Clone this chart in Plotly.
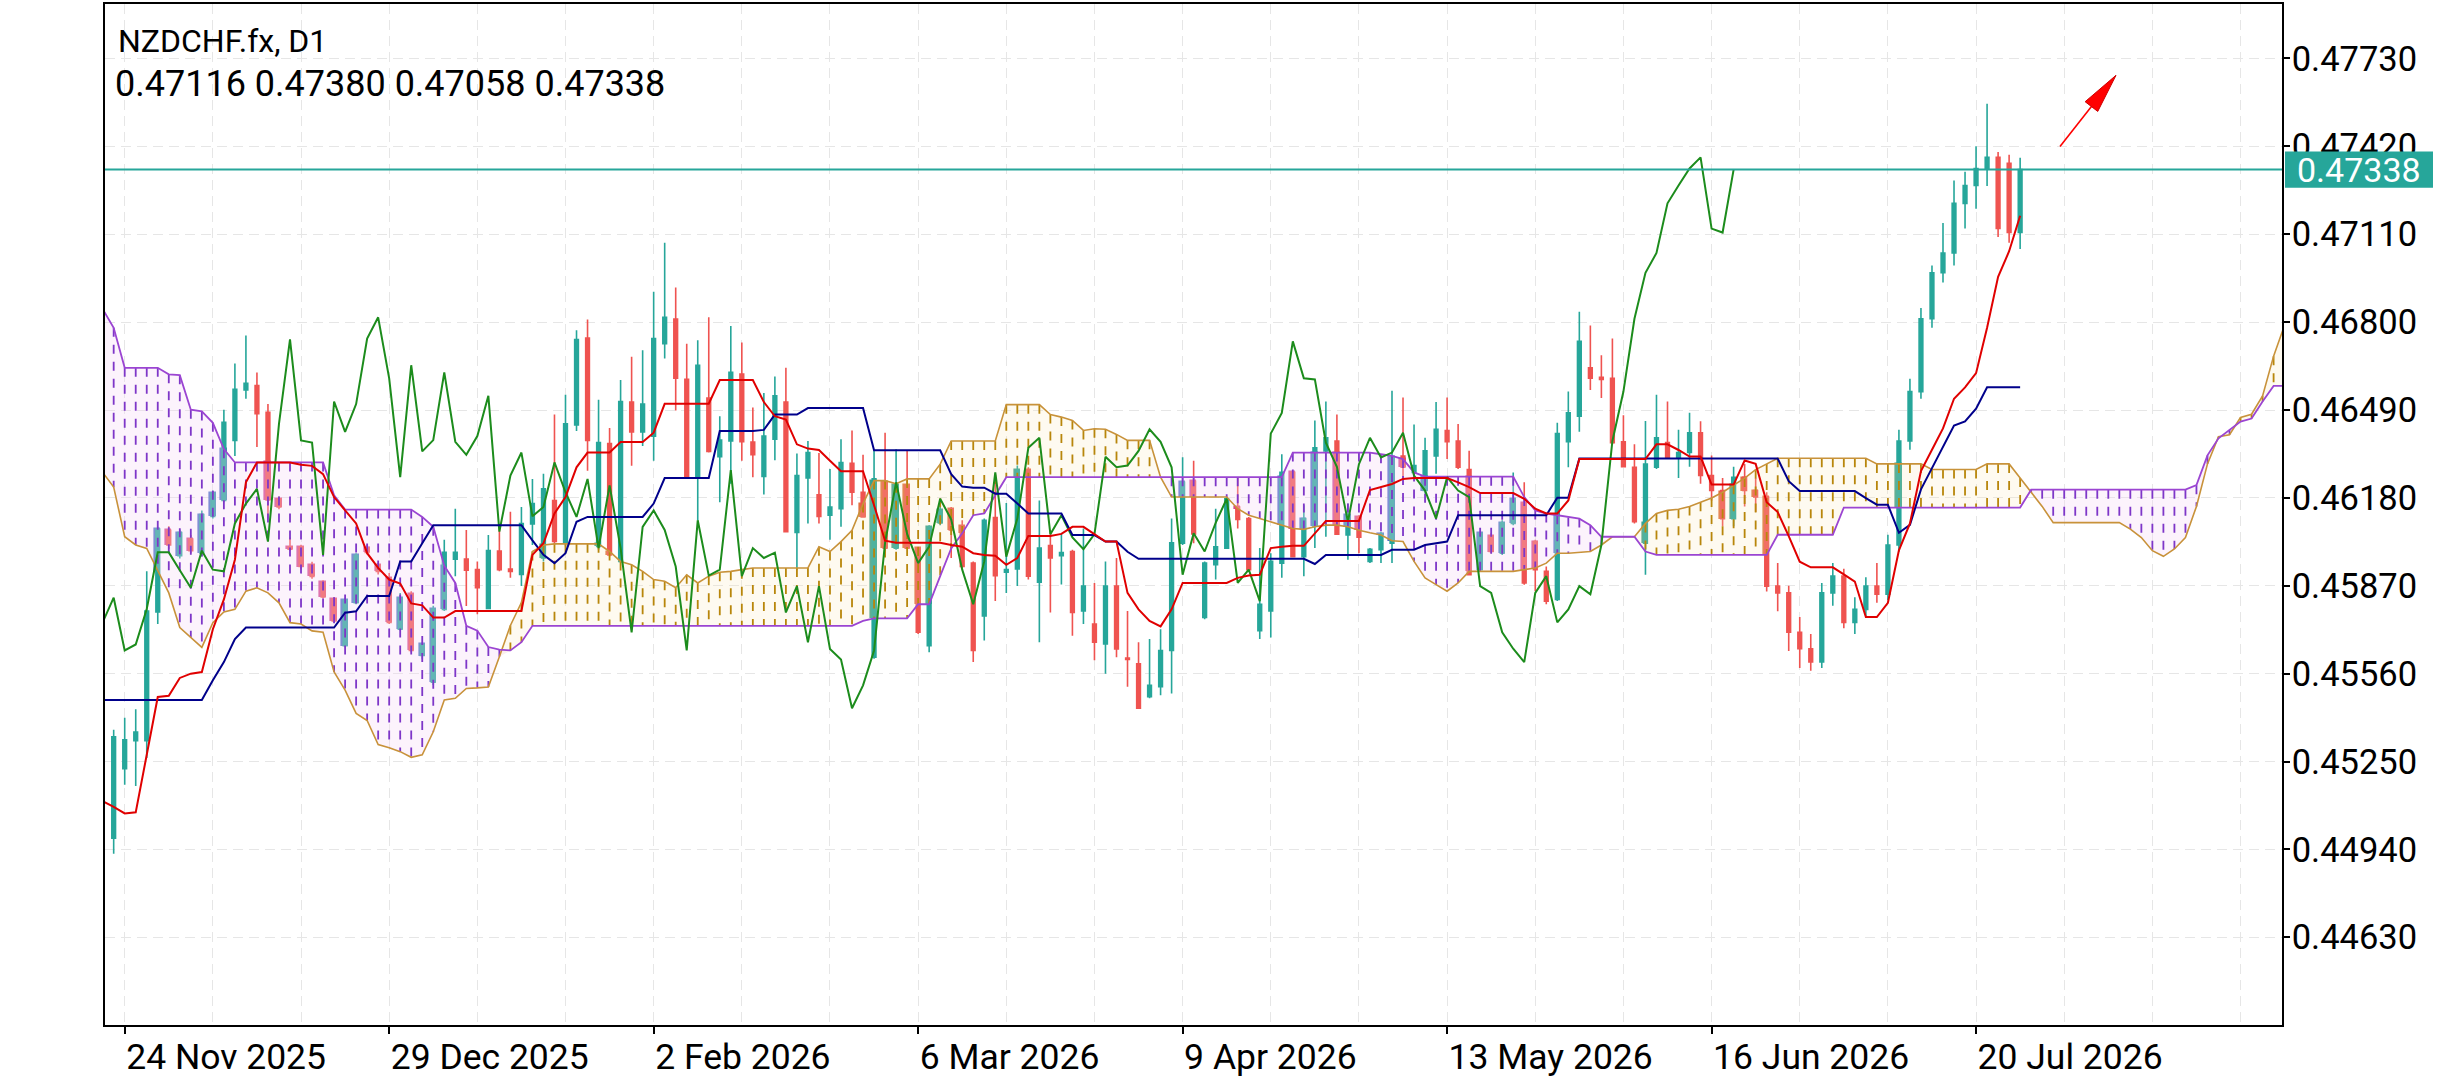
import numpy as np
import plotly.graph_objects as go

# ---------------- data ----------------
candle_start = -1  # bar index of first candle (24 Nov 2025 = 0)
opens = [0.44980,0.45225,0.45324,0.45324,0.45778,0.46066,0.45976,0.46035,0.45985,0.46115,
 0.46171,0.46383,0.46561,0.46576,0.46482,0.46177,0.46008,0.46008,0.45944,0.45882,
 0.45824,0.45659,0.45810,0.46005,0.45944,0.45898,0.45717,0.45840,0.45624,0.45530,
 0.45787,0.45964,0.45964,0.45927,0.45790,0.45993,0.45929,0.45910,0.46088,0.45968,
 0.46171,0.46020,0.46437,0.46744,0.46009,0.46372,0.45956,0.46518,0.46413,0.46398,
 0.46724,0.46811,0.46598,0.46253,0.46532,0.46325,0.46381,0.46617,0.46377,0.46256,
 0.46387,0.46518,0.46058,0.46250,0.46191,0.46119,0.46142,0.46302,0.46200,0.45618,
 0.46235,0.46003,0.46224,0.46003,0.45659,0.46092,0.46142,0.46081,0.45950,0.45764,
 0.46111,0.45918,0.45929,0.46278,0.45883,0.46012,0.45976,0.45991,0.45781,0.45735,
 0.45665,0.45869,0.45615,0.45595,0.45479,0.45514,0.45642,0.46020,0.46239,0.45758,
 0.45944,0.46003,0.46148,0.46107,0.45712,0.45781,0.45950,0.46270,0.45973,0.46080,
 0.46346,0.46381,0.46049,0.46113,0.45956,0.45997,0.46020,0.46328,0.46270,0.46206,
 0.46328,0.46418,0.46381,0.46280,0.45927,0.46046,0.45985,0.46090,0.46162,0.46026,
 0.45921,0.45822,0.46378,0.46468,0.46639,0.46605,0.46602,0.46378,0.46288,0.46020,
 0.46288,0.46375,0.46323,0.46340,0.46410,0.46259,0.46206,0.46107,0.46253,0.46206,
 0.46183,0.45869,0.45845,0.45706,0.45648,0.45601,0.45845,0.45904,0.45741,0.45787,
 0.45869,0.45840,0.46014,0.46381,0.46555,0.46812,0.46974,0.47044,0.47219,0.47282,
 0.47342,0.47381,0.47360,0.47116]
highs = [0.45362,0.45405,0.45435,0.45921,0.46078,0.46080,0.46068,0.46049,0.46136,0.46206,
 0.46491,0.46654,0.46753,0.46622,0.46511,0.46185,0.46040,0.46015,0.45955,0.45890,
 0.45830,0.45828,0.45985,0.46015,0.45950,0.45915,0.45845,0.45851,0.45670,0.45800,
 0.46032,0.46142,0.46067,0.45956,0.46049,0.46078,0.46131,0.46148,0.46247,0.46265,
 0.46474,0.46544,0.46771,0.46809,0.46526,0.46427,0.46596,0.46678,0.46701,0.46907,
 0.47080,0.46922,0.46724,0.46736,0.46817,0.46468,0.46786,0.46728,0.46499,0.46550,
 0.46608,0.46639,0.46337,0.46381,0.46338,0.46282,0.46387,0.46418,0.46332,0.46346,
 0.46410,0.46352,0.46346,0.46008,0.46084,0.46160,0.46148,0.46101,0.45956,0.46107,
 0.46264,0.46162,0.46294,0.46288,0.46171,0.46067,0.46055,0.45997,0.46072,0.45880,
 0.45956,0.45968,0.45781,0.45671,0.45682,0.45717,0.46107,0.46323,0.46311,0.45956,
 0.46142,0.46183,0.46253,0.46113,0.46003,0.45985,0.46334,0.46274,0.46154,0.46453,
 0.46520,0.46474,0.46160,0.46119,0.46003,0.46061,0.46558,0.46534,0.46439,0.46392,
 0.46518,0.46534,0.46441,0.46346,0.46061,0.46055,0.46101,0.46270,0.46235,0.46032,
 0.45938,0.46445,0.46555,0.46837,0.46788,0.46683,0.46742,0.46472,0.46369,0.46451,
 0.46544,0.46520,0.46420,0.46480,0.46450,0.46330,0.46250,0.46290,0.46300,0.46250,
 0.46200,0.45950,0.45870,0.45760,0.45700,0.45880,0.45950,0.45930,0.45830,0.45900,
 0.45950,0.46050,0.46420,0.46600,0.46850,0.47000,0.47150,0.47300,0.47330,0.47420,
 0.47570,0.47400,0.47390,0.47380]
lows = [0.44925,0.45168,0.45164,0.45263,0.45735,0.46000,0.45966,0.45985,0.45973,0.46107,
 0.46165,0.46328,0.46530,0.46360,0.46107,0.46140,0.45994,0.45930,0.45895,0.45825,
 0.45740,0.45653,0.45805,0.45980,0.45910,0.45735,0.45712,0.45636,0.45613,0.45520,
 0.45781,0.45904,0.45799,0.45770,0.45787,0.45921,0.45898,0.45869,0.46014,0.45956,
 0.46014,0.46009,0.46416,0.46276,0.45997,0.45973,0.45950,0.46293,0.46363,0.46311,
 0.46672,0.46488,0.46250,0.46101,0.46340,0.46165,0.46230,0.46311,0.46253,0.46192,
 0.46313,0.46058,0.45927,0.46090,0.46090,0.46032,0.46078,0.46154,0.46110,0.45613,
 0.46000,0.45997,0.46000,0.45700,0.45636,0.46084,0.45968,0.45933,0.45601,0.45677,
 0.45816,0.45845,0.45869,0.45892,0.45671,0.45776,0.45875,0.45694,0.45735,0.45607,
 0.45560,0.45618,0.45514,0.45438,0.45473,0.45484,0.45490,0.46014,0.46020,0.45752,
 0.45892,0.46000,0.46072,0.45921,0.45682,0.45688,0.45898,0.45971,0.45904,0.46003,
 0.46043,0.46049,0.45962,0.45985,0.45950,0.45950,0.45950,0.46250,0.46253,0.46195,
 0.46265,0.46317,0.46282,0.45909,0.45921,0.45985,0.45979,0.46084,0.45874,0.45851,
 0.45805,0.45816,0.46288,0.46413,0.46561,0.46532,0.46369,0.46288,0.46090,0.45909,
 0.46282,0.46317,0.46250,0.46290,0.46230,0.46170,0.46080,0.46080,0.46150,0.46130,
 0.45850,0.45780,0.45640,0.45580,0.45570,0.45580,0.45800,0.45720,0.45700,0.45760,
 0.45810,0.45820,0.45990,0.46350,0.46530,0.46780,0.46940,0.47000,0.47130,0.47200,
 0.47280,0.47100,0.47080,0.47058]
closes = [0.45337,0.45327,0.45354,0.45781,0.46070,0.46014,0.46058,0.45994,0.46121,0.46198,
 0.46447,0.46563,0.46584,0.46477,0.46173,0.46148,0.45999,0.45938,0.45903,0.45831,
 0.45746,0.45820,0.45977,0.45988,0.45921,0.45741,0.45828,0.45642,0.45663,0.45788,
 0.45988,0.45988,0.45925,0.45863,0.45994,0.45927,0.45921,0.46090,0.46160,0.46212,
 0.46026,0.46441,0.46739,0.46383,0.46375,0.45979,0.46520,0.46413,0.46511,0.46742,
 0.46817,0.46602,0.46253,0.46648,0.46344,0.46384,0.46623,0.46378,0.46332,0.46398,
 0.46540,0.46061,0.46259,0.46340,0.46115,0.46148,0.46305,0.46200,0.46113,0.46247,
 0.46003,0.46224,0.46003,0.45706,0.46078,0.46136,0.46067,0.45938,0.45642,0.46101,
 0.45906,0.45927,0.46278,0.45904,0.46003,0.45968,0.45987,0.45776,0.45869,0.45671,
 0.45869,0.45647,0.45610,0.45438,0.45519,0.45642,0.46022,0.46235,0.46053,0.45950,
 0.46008,0.46177,0.46104,0.45927,0.45805,0.45956,0.46270,0.45973,0.46107,0.46357,
 0.46392,0.46052,0.46119,0.46041,0.45999,0.46052,0.46325,0.46288,0.46294,0.46346,
 0.46422,0.46378,0.46288,0.45909,0.46055,0.45991,0.46092,0.46177,0.45880,0.45927,
 0.45816,0.46407,0.46480,0.46732,0.46602,0.46598,0.46375,0.46290,0.46096,0.46299,
 0.46392,0.46323,0.46340,0.46410,0.46259,0.46206,0.46107,0.46253,0.46206,0.46183,
 0.45869,0.45845,0.45706,0.45648,0.45601,0.45845,0.45904,0.45741,0.45787,0.45869,
 0.45840,0.46014,0.46381,0.46555,0.46812,0.46974,0.47044,0.47219,0.47282,0.47342,
 0.47381,0.47130,0.47116,0.47338]

line_start = -2
tenkan = [0.45110,0.45090,0.45067,0.45071,0.45274,0.45478,0.45482,0.45545,0.45560,0.45566,
 0.45717,0.45822,0.45962,0.46235,0.46305,0.46305,0.46305,0.46305,0.46297,0.46293,
 0.46264,0.46183,0.46136,0.46090,0.45985,0.45933,0.45892,0.45878,0.45808,0.45801,
 0.45758,0.45758,0.45781,0.45781,0.45781,0.45781,0.45781,0.45781,0.45781,0.45979,
 0.46020,0.46125,0.46183,0.46288,0.46340,0.46340,0.46340,0.46377,0.46377,0.46377,
 0.46410,0.46512,0.46512,0.46512,0.46512,0.46512,0.46596,0.46596,0.46596,0.46596,
 0.46518,0.46468,0.46456,0.46369,0.46354,0.46349,0.46311,0.46274,0.46274,0.46274,
 0.46154,0.46029,0.46022,0.46022,0.46022,0.46022,0.46022,0.46014,0.46008,0.45985,
 0.45979,0.45976,0.45944,0.45968,0.46046,0.46046,0.46046,0.46053,0.46078,0.46078,
 0.46053,0.46026,0.46026,0.45845,0.45787,0.45746,0.45727,0.45787,0.45880,0.45880,
 0.45880,0.45880,0.45880,0.45898,0.45906,0.45909,0.46003,0.46008,0.46011,0.46011,
 0.46055,0.46099,0.46099,0.46099,0.46099,0.46208,0.46218,0.46229,0.46247,0.46250,
 0.46250,0.46250,0.46250,0.46235,0.46218,0.46197,0.46197,0.46197,0.46197,0.46177,
 0.46142,0.46125,0.46125,0.46171,0.46317,0.46317,0.46317,0.46317,0.46317,0.46317,
 0.46317,0.46369,0.46369,0.46349,0.46326,0.46326,0.46227,0.46227,0.46227,0.46312,
 0.46300,0.46165,0.46130,0.46045,0.45955,0.45935,0.45935,0.45935,0.45910,0.45885,
 0.45760,0.45760,0.45810,0.45995,0.46090,0.46275,0.46350,0.46425,0.46530,0.46570,
 0.46620,0.46780,0.46960,0.47050,0.47175]
kijun = [0.45467,0.45467,0.45467,0.45467,0.45467,0.45467,0.45467,0.45467,0.45467,0.45467,
 0.45537,0.45601,0.45682,0.45723,0.45723,0.45723,0.45723,0.45723,0.45723,0.45723,
 0.45723,0.45723,0.45775,0.45780,0.45834,0.45834,0.45834,0.45956,0.45956,0.46020,
 0.46084,0.46084,0.46084,0.46084,0.46084,0.46084,0.46084,0.46084,0.46084,0.46030,
 0.45979,0.45950,0.45985,0.46096,0.46113,0.46113,0.46113,0.46113,0.46113,0.46113,
 0.46160,0.46250,0.46250,0.46250,0.46250,0.46250,0.46416,0.46416,0.46416,0.46416,
 0.46420,0.46474,0.46474,0.46474,0.46497,0.46497,0.46497,0.46497,0.46497,0.46497,
 0.46348,0.46348,0.46348,0.46348,0.46348,0.46348,0.46348,0.46264,0.46220,0.46216,
 0.46216,0.46195,0.46195,0.46160,0.46125,0.46125,0.46125,0.46125,0.46049,0.46049,
 0.46049,0.46026,0.46026,0.45990,0.45965,0.45965,0.45965,0.45965,0.45965,0.45965,
 0.45965,0.45965,0.45965,0.45965,0.45965,0.45965,0.45965,0.45965,0.45965,0.45965,
 0.45947,0.45979,0.45979,0.45979,0.45979,0.45979,0.45979,0.45997,0.45997,0.45997,
 0.46014,0.46020,0.46026,0.46119,0.46119,0.46119,0.46119,0.46119,0.46119,0.46119,
 0.46119,0.46119,0.46181,0.46181,0.46319,0.46319,0.46319,0.46319,0.46319,0.46319,
 0.46319,0.46319,0.46319,0.46319,0.46319,0.46319,0.46319,0.46319,0.46319,0.46319,
 0.46319,0.46319,0.46319,0.46239,0.46204,0.46204,0.46204,0.46204,0.46204,0.46204,
 0.46179,0.46156,0.46156,0.46057,0.46085,0.46210,0.46285,0.46360,0.46435,0.46450,
 0.46495,0.46570,0.46570,0.46570,0.46570]

cloud_start = -2
senkou_a = [0.46270,0.46218,0.46043,0.46014,0.46002,0.45921,0.45845,0.45723,0.45688,0.45653,
 0.45740,0.45778,0.45787,0.45851,0.45863,0.45845,0.45810,0.45740,0.45735,0.45711,
 0.45706,0.45566,0.45502,0.45420,0.45395,0.45310,0.45299,0.45285,0.45265,0.45274,
 0.45355,0.45467,0.45473,0.45508,0.45510,0.45513,0.45620,0.45730,0.45811,0.45991,
 0.46014,0.46018,0.46018,0.46018,0.46018,0.46018,0.45991,0.45956,0.45944,0.45921,
 0.45892,0.45886,0.45863,0.45909,0.45880,0.45904,0.45918,0.45921,0.45927,0.45933,
 0.45933,0.45933,0.45933,0.45933,0.45933,0.46008,0.45991,0.46026,0.46066,0.46160,
 0.46241,0.46241,0.46230,0.46247,0.46247,0.46247,0.46299,0.46381,0.46381,0.46381,
 0.46381,0.46381,0.46509,0.46509,0.46509,0.46509,0.46474,0.46465,0.46453,0.46418,
 0.46424,0.46422,0.46404,0.46383,0.46383,0.46383,0.46253,0.46183,0.46183,0.46183,
 0.46183,0.46183,0.46183,0.46142,0.46119,0.46107,0.46096,0.46084,0.46072,0.46069,
 0.46078,0.46084,0.46084,0.46078,0.46066,0.46057,0.46049,0.46029,0.46026,0.45956,
 0.45898,0.45874,0.45851,0.45880,0.45921,0.45921,0.45921,0.45921,0.45921,0.45927,
 0.45933,0.45950,0.45985,0.45985,0.45988,0.45991,0.46014,0.46043,0.46043,0.46043,
 0.46090,0.46125,0.46136,0.46140,0.46150,0.46165,0.46180,0.46200,0.46225,0.46250,
 0.46280,0.46300,0.46320,0.46320,0.46320,0.46320,0.46320,0.46320,0.46320,0.46320,
 0.46320,0.46300,0.46300,0.46300,0.46300,0.46300,0.46280,0.46280,0.46280,0.46280,
 0.46280,0.46300,0.46300,0.46300,0.46250,0.46200,0.46150,0.46093,0.46093,0.46093,
 0.46093,0.46093,0.46093,0.46093,0.46070,0.46040,0.45994,0.45974,0.46000,0.46040,
 0.46150,0.46300,0.46396,0.46403,0.46464,0.46475,0.46540,0.46680,0.46790]
senkou_b = [0.46846,0.46780,0.46639,0.46639,0.46639,0.46639,0.46616,0.46613,0.46491,0.46485,
 0.46445,0.46352,0.46305,0.46305,0.46305,0.46305,0.46305,0.46305,0.46305,0.46305,
 0.46305,0.46189,0.46139,0.46139,0.46139,0.46139,0.46139,0.46139,0.46139,0.46113,
 0.46078,0.45941,0.45880,0.45729,0.45712,0.45654,0.45645,0.45642,0.45671,0.45729,
 0.45729,0.45729,0.45729,0.45729,0.45729,0.45729,0.45729,0.45729,0.45729,0.45729,
 0.45729,0.45729,0.45729,0.45729,0.45729,0.45729,0.45729,0.45729,0.45729,0.45729,
 0.45729,0.45729,0.45729,0.45729,0.45729,0.45729,0.45729,0.45729,0.45729,0.45746,
 0.45755,0.45755,0.45755,0.45755,0.45805,0.45805,0.45904,0.46002,0.46055,0.46119,
 0.46125,0.46189,0.46253,0.46253,0.46253,0.46253,0.46253,0.46253,0.46253,0.46253,
 0.46253,0.46253,0.46253,0.46253,0.46253,0.46253,0.46253,0.46253,0.46253,0.46253,
 0.46253,0.46253,0.46253,0.46253,0.46253,0.46253,0.46253,0.46253,0.46340,0.46340,
 0.46340,0.46340,0.46340,0.46340,0.46340,0.46340,0.46334,0.46328,0.46317,0.46270,
 0.46255,0.46255,0.46255,0.46255,0.46255,0.46255,0.46255,0.46255,0.46255,0.46183,
 0.46136,0.46125,0.46119,0.46111,0.46107,0.46084,0.46043,0.46043,0.46043,0.46043,
 0.45991,0.45979,0.45979,0.45979,0.45979,0.45979,0.45979,0.45979,0.45979,0.45979,
 0.45979,0.45979,0.46050,0.46050,0.46050,0.46050,0.46050,0.46050,0.46146,0.46146,
 0.46146,0.46146,0.46146,0.46146,0.46146,0.46146,0.46146,0.46146,0.46146,0.46146,
 0.46146,0.46146,0.46146,0.46146,0.46146,0.46209,0.46209,0.46209,0.46209,0.46209,
 0.46209,0.46209,0.46209,0.46209,0.46209,0.46209,0.46209,0.46209,0.46209,0.46209,
 0.46225,0.46330,0.46390,0.46420,0.46449,0.46460,0.46520,0.46575,0.46575]

chikou_shift = 26
tick_idx = [0, 24, 48, 72, 96, 120, 144, 168]
tick_labels = ['24 Nov 2025', '29 Dec 2025', '2 Feb 2026', '6 Mar 2026',
               '9 Apr 2026', '13 May 2026', '16 Jun 2026', '20 Jul 2026']
grid_idx = [8, 16, 32, 40, 56, 64, 80, 88, 104, 112, 128, 136, 152, 160, 176, 184, 192]
ytick_vals = [0.44630, 0.44940, 0.45250, 0.45560, 0.45870, 0.46180, 0.46490,
              0.46800, 0.47110, 0.47420, 0.47730]
symbol_title = 'NZDCHF.fx, D1'
# red arrow drawn in pixel space: tail and tip
arrow_tail_px = (2060, 146)
arrow_tip_px = (2116, 74)

# ---------------- derived arrays ----------------
cx = np.arange(candle_start, candle_start + len(opens))
O, H, L, C = map(np.array, (opens, highs, lows, closes))
lx = np.arange(line_start, line_start + len(tenkan))
kx = np.arange(line_start, line_start + len(kijun))
sx = np.arange(cloud_start, cloud_start + len(senkou_a))
A = np.array(senkou_a)
B = np.array(senkou_b)
lowAB = np.minimum(A, B)

TEAL = '#26A69A'
RED = '#EF5350'
FONT = 'Roboto'

fig = go.Figure()

# cloud fills
fig.add_trace(go.Scatter(x=sx, y=lowAB, mode='lines', line=dict(width=0), hoverinfo='skip', showlegend=False))
fig.add_trace(go.Scatter(x=sx, y=B, mode='lines', line=dict(width=0), fill='tonexty',
                         fillcolor='rgba(245,215,245,0.30)', hoverinfo='skip', showlegend=False))
fig.add_trace(go.Scatter(x=sx, y=lowAB, mode='lines', line=dict(width=0), hoverinfo='skip', showlegend=False))
fig.add_trace(go.Scatter(x=sx, y=A, mode='lines', line=dict(width=0), fill='tonexty',
                         fillcolor='rgba(250,232,180,0.20)', hoverinfo='skip', showlegend=False))

# cloud hatching (one dashed vertical per bar)
def hatch(mask):
    xs, ys = [], []
    for xi, a, b, m in zip(sx, A, B, mask):
        if m:
            xs += [xi, xi, None]
            ys += [max(a, b), min(a, b), None]
    return xs, ys

hx, hy = hatch(B > A)
fig.add_trace(go.Scatter(x=hx, y=hy, mode='lines', line=dict(color='#7E36C8', width=1.8, dash='9px,8px'),
                         hoverinfo='skip', showlegend=False))
hx, hy = hatch(A >= B)
fig.add_trace(go.Scatter(x=hx, y=hy, mode='lines', line=dict(color='#B8860B', width=1.8, dash='9px,8px'),
                         hoverinfo='skip', showlegend=False))

# senkou lines
fig.add_trace(go.Scatter(x=sx, y=A, mode='lines', line=dict(color='#C8923A', width=1.6),
                         hoverinfo='skip', showlegend=False))
fig.add_trace(go.Scatter(x=sx, y=B, mode='lines', line=dict(color='#9B45D2', width=1.8),
                         hoverinfo='skip', showlegend=False))

# candles
fig.add_trace(go.Candlestick(x=cx, open=O, high=H, low=L, close=C, whiskerwidth=0,
                             increasing=dict(line=dict(color=TEAL, width=1.6), fillcolor=TEAL),
                             decreasing=dict(line=dict(color=RED, width=1.6), fillcolor=RED),
                             hoverinfo='skip', showlegend=False))

# tint of candle bodies lying inside the cloud
ci = cx - cloud_start
Ac, Bc = A[ci], B[ci]
blo, bhi = np.minimum(O, C), np.maximum(O, C)
tx, tb, th, tc = [], [], [], []
for k in range(len(cx)):
    up = C[k] >= O[k]
    if Bc[k] > Ac[k]:
        lo, hi = max(blo[k], Ac[k]), min(bhi[k], Bc[k])
        col = '#4C70C6' if up else '#D6488F'
    else:
        lo, hi = max(blo[k], Bc[k]), min(bhi[k], Ac[k])
        col = '#3FA08A' if up else '#E0703E'
    if hi > lo:
        tx.append(cx[k]); tb.append(lo); th.append(hi - lo); tc.append(col)
fig.add_trace(go.Bar(x=tx, y=th, base=tb, width=0.48, marker=dict(color=tc, line=dict(color=tc, width=1.6)),
                     hoverinfo='skip', showlegend=False))

# chikou, kijun, tenkan
fig.add_trace(go.Scatter(x=cx - chikou_shift, y=C, mode='lines', line=dict(color='#1C8C1C', width=2),
                         hoverinfo='skip', showlegend=False))
fig.add_trace(go.Scatter(x=kx, y=kijun, mode='lines', line=dict(color='#00008B', width=2),
                         hoverinfo='skip', showlegend=False))
fig.add_trace(go.Scatter(x=lx, y=tenkan, mode='lines', line=dict(color='#E00000', width=2),
                         hoverinfo='skip', showlegend=False))

last = closes[-1]
PLOT_L, PLOT_R, PLOT_T, PLOT_B = 105, 2282, 2, 1033
W, HGT = 2460, 1080
ppu = 28629.0  # pixels per price unit
xr = [(PLOT_L - 124.7) / 11.02, (PLOT_R - 124.7) / 11.02]
yr = [0.47730 - (PLOT_B - 57) / ppu, 0.47730 + (57 - PLOT_T) / ppu]

def px2paper(x, y):
    return (x - PLOT_L) / (PLOT_R - PLOT_L), 1 - (y - PLOT_T) / (PLOT_B - PLOT_T)

grid = dict(gridcolor='#E6E6E6', griddash='10px,6px', gridwidth=1)
fig.update_layout(
    width=W, height=HGT,
    margin=dict(l=PLOT_L, r=W - PLOT_R, t=PLOT_T, b=HGT - PLOT_B),
    paper_bgcolor='white', plot_bgcolor='white',
    boxgap=0.52,
    bargap=0,
    showlegend=False,
    xaxis=dict(range=xr, tickmode='array', tickvals=tick_idx, ticktext=tick_labels,
               ticks='outside', ticklen=7, tickcolor='black', tickwidth=1.5,
               ticklabelposition='outside right',
               tickfont=dict(family=FONT, size=35.5, color='black'),
               showline=True, linecolor='black', linewidth=1.5, mirror=True,
               showgrid=True, zeroline=False, rangeslider=dict(visible=False),
               minor=dict(tickmode='array', tickvals=grid_idx, showgrid=True, ticks='', **grid),
               **grid),
    yaxis=dict(range=yr, side='right', tickmode='array', tickvals=ytick_vals,
               ticktext=[f'{v:.5f}' for v in ytick_vals],
               ticks='outside', ticklen=6, tickcolor='black', tickwidth=1.5,
               ticklabelstandoff=-5,
               tickfont=dict(family=FONT, size=34.5, color='black'),
               showline=True, linecolor='black', linewidth=1.5, mirror=True,
               showgrid=True, zeroline=False, **grid),
)

# price line
fig.add_shape(type='line', xref='paper', yref='y', x0=0, x1=1, y0=last, y1=last,
              line=dict(color=TEAL, width=2))
# price label box
bx0 = (2285 - PLOT_L) / (PLOT_R - PLOT_L)
bx1 = (2433 - PLOT_L) / (PLOT_R - PLOT_L)
half = 18.3 / ppu
fig.add_shape(type='rect', xref='paper', yref='y', x0=bx0, x1=bx1, y0=last - half, y1=last + half,
              fillcolor=TEAL, line=dict(width=0), layer='above')
fig.add_annotation(xref='paper', yref='y', x=(bx0 + bx1) / 2, y=last, text=f'{last:.5f}',
                   showarrow=False, font=dict(family=FONT, size=34, color='white'),
                   xanchor='center', yanchor='middle')

# header texts
hx0, hy0 = px2paper(116, 18)
fig.add_annotation(xref='paper', yref='paper', x=hx0, y=hy0,
                   text=symbol_title, showarrow=False, xanchor='left', yanchor='top',
                   font=dict(family=FONT, size=32, color='black'))
hx1, hy1 = px2paper(113, 60)
fig.add_annotation(xref='paper', yref='paper', x=hx1, y=hy1,
                   text=' '.join(f'{v:.5f}' for v in (opens[-1], highs[-1], lows[-1], closes[-1])),
                   showarrow=False, xanchor='left', yanchor='top',
                   font=dict(family=FONT, size=36, color='black'))

# red arrow (shaft + slender filled head), pixel geometry converted to paper coords
tx_, ty_ = arrow_tail_px
px_, py_ = arrow_tip_px
dx, dy = px_ - tx_, py_ - ty_
ln = (dx * dx + dy * dy) ** 0.5
ux, uy = dx / ln, dy / ln
head_len, head_half = 40, 8
bcx, bcy = px_ - ux * head_len, py_ - uy * head_len
c1 = (bcx - uy * head_half, bcy + ux * head_half)
c2 = (bcx + uy * head_half, bcy - ux * head_half)
p_tail = px2paper(tx_, ty_)
p_base = px2paper(bcx, bcy)
fig.add_shape(type='line', xref='paper', yref='paper', x0=p_tail[0], y0=p_tail[1], x1=p_base[0], y1=p_base[1],
              line=dict(color='#FF0000', width=1.6))
pts = [px2paper(*p) for p in ((px_, py_), c1, c2)]
path = 'M {} {} L {} {} L {} {} Z'.format(pts[0][0], pts[0][1], pts[1][0], pts[1][1], pts[2][0], pts[2][1])
fig.add_shape(type='path', xref='paper', yref='paper', path=path, fillcolor='#FF0000',
              line=dict(color='#CC0000', width=1))

fig.write_html('out.html')
